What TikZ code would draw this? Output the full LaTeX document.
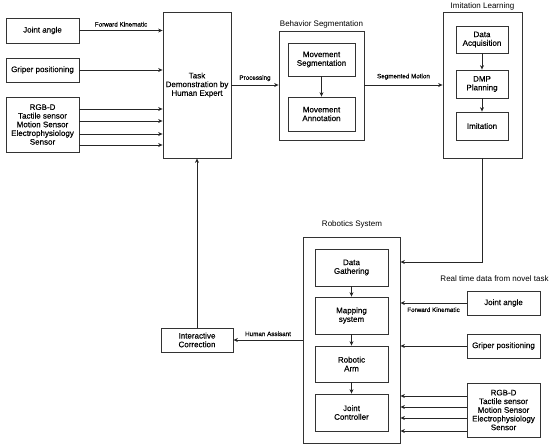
\documentclass[tikz,border=0pt]{standalone}
\usepackage{fontspec}
\setmainfont{Liberation Sans}
\newfontfamily\boxfont[FakeBold=0.35]{Liberation Sans}
\usetikzlibrary{arrows.meta}
\begin{document}
\begin{tikzpicture}[x=1pt,y=-1pt,
  box/.style={draw=black!80, line width=0.8pt, fill=white, align=center, inner sep=1pt,
    font=\boxfont\fontsize{8}{8.7}\selectfont},
  outer/.style={draw=black!80, line width=0.8pt, inner sep=0pt},
  arr/.style={draw=black!85, line width=0.8pt, -{Stealth[length=4.5pt,width=4pt]}},
  lbl/.style={font=\boxfont\fontsize{6.3}{7}\selectfont, inner sep=0pt},
  ttl/.style={font=\fontsize{8}{9}\selectfont, inner sep=0pt}]
\useasboundingbox (0,0) rectangle (550,448);
% left inputs
\node[box, minimum width=73, minimum height=25] (ja1) at (42.5,30.5) {Joint angle};
\node[box, minimum width=73, minimum height=24] (gp1) at (42.5,70) {Griper positioning};
\node[box, minimum width=73, minimum height=55] (rgb1) at (42.5,124.5) {RGB-D\\Tactile sensor\\Motion Sensor\\Electrophysiology\\Sensor};
\node[box, minimum width=68, minimum height=146] (task) at (197,85) {Task\\Demonstration by\\Human Expert};
% behavior segmentation
\node[outer, minimum width=85, minimum height=109] (bs) at (321.5,85.5) {};
\node[ttl] (bst) at (321.5,24) {Behavior Segmentation};
\node[box, minimum width=67, minimum height=33] (ms) at (321.5,59.5) {Movement\\Segmentation};
\node[box, minimum width=67, minimum height=34] (ma) at (321.5,114) {Movement\\Annotation};
% imitation learning
\node[outer, minimum width=79, minimum height=146] (il) at (482.5,85) {};
\node[ttl] (ilt) at (482.5,6) {Imitation Learning};
\node[box, minimum width=52, minimum height=27] (da) at (482,39.5) {Data\\Acquisition};
\node[box, minimum width=52, minimum height=28] (dmp) at (482,84) {DMP\\Planning};
\node[box, minimum width=52, minimum height=28] (imi) at (482,126) {Imitation};
% robotics system
\node[outer, minimum width=97, minimum height=206] (rs) at (351.5,340) {};
\node[ttl] (rst) at (352,224) {Robotics System};
\node[box, minimum width=73, minimum height=37] (dg) at (351.5,267.5) {Data\\Gathering};
\node[box, minimum width=73, minimum height=37] (msys) at (351.5,315.5) {Mapping\\system};
\node[box, minimum width=73, minimum height=36] (ra) at (351.5,364) {Robotic\\Arm};
\node[box, minimum width=73, minimum height=37] (jc) at (351.5,412.5) {Joint\\Controller};
\node[box, minimum width=72, minimum height=24] (ic) at (197,340) {Interactive\\Correction};
% right inputs
\node[ttl] (rtt) at (494.5,279) {Real time data from novel task};
\node[box, minimum width=73, minimum height=24] (ja2) at (503.5,303) {Joint angle};
\node[box, minimum width=73, minimum height=24] (gp2) at (503.5,346) {Griper positioning};
\node[box, minimum width=73, minimum height=54] (rgb2) at (503.5,410) {RGB-D\\Tactile sensor\\Motion Sensor\\Electrophysiology\\Sensor};
% left connectors
\draw[arr] (ja1.east) -- (ja1.east -| task.west) node[lbl, midway, above=3.5pt] {Forward Kinematic};
\draw[arr] (gp1.east) -- (gp1.east -| task.west);
\foreach \yy in {109,121,134,145}
  \draw[arr] (rgb1.east |- 0,\yy) -- (task.west |- 0,\yy);
\draw[arr] (task.east |- 0,85) -- (bs.west |- 0,85) node[lbl, midway, above=3.5pt] {Processing};
\draw[arr] (bs.east |- 0,85) -- (il.west |- 0,85) node[lbl, midway, above=5pt] {Segmented Motion};
\draw[arr] (ms.south) -- (ma.north);
\draw[arr] (da.south) -- (dmp.north);
\draw[arr] (dmp.south) -- (imi.north);
\coordinate (bend) at (482,262);
\draw[arr] (il.south -| 482,0) -- (bend) -- (rs.east |- bend);
\draw[arr] (dg.south) -- (msys.north);
\draw[arr] (msys.south) -- (ra.north);
\draw[arr] (ra.south) -- (jc.north);
\draw[arr] (rs.west |- ic.east) -- (ic.east) node[lbl, midway, above=3.5pt] {Human Assisant};
\draw[arr] (ic.north) -- (task.south);
% right connectors
\draw[arr] (ja2.west) -- (rs.east |- ja2.west) node[lbl, midway, below=4pt] {Forward Kinematic};
\draw[arr] (gp2.west) -- (rs.east |- gp2.west);
\foreach \yy in {396,407,418,431}
  \draw[arr] (rgb2.west |- 0,\yy) -- (rs.east |- 0,\yy);
\end{tikzpicture}
\end{document}
